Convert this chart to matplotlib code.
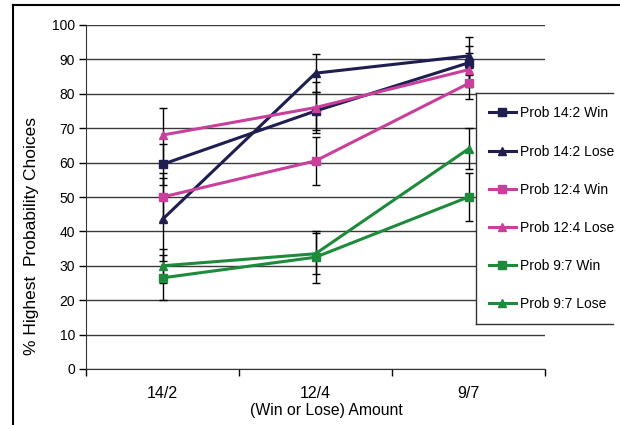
import matplotlib
matplotlib.use("Agg")
import matplotlib.pyplot as plt
from matplotlib.lines import Line2D
from matplotlib.patches import Rectangle

plt.rcParams["font.family"] = ["Liberation Sans", "DejaVu Sans"]

amounts = ["14/2", "12/4", "9/7"]

series_names = [
    "Prob 14:2 Win",
    "Prob 14:2 Lose",
    "Prob 12:4 Win",
    "Prob 12:4 Lose",
    "Prob 9:7 Win",
    "Prob 9:7 Lose",
]

win_14_2 = [59.5, 75, 89]
lose_14_2 = [43.5, 86, 91]
win_12_4 = [50, 60.5, 83]
lose_12_4 = [68, 76, 87]
win_9_7 = [26.5, 32.5, 50]
lose_9_7 = [30, 33.5, 64]

err_win_14_2 = [6, 5.5, 5]
err_lose_14_2 = [12, 5.5, 5.5]
err_win_12_4 = [7, 7, 4.5]
err_lose_12_4 = [8, 7.5, 5]
err_win_9_7 = [6.5, 7.5, 7]
err_lose_9_7 = [5, 6, 6]

values = [win_14_2, lose_14_2, win_12_4, lose_12_4, win_9_7, lose_9_7]
errors = [err_win_14_2, err_lose_14_2, err_win_12_4, err_lose_12_4, err_win_9_7, err_lose_9_7]

navy = "#1e1e50"
pink = "#c8409c"
green = "#1e8a3c"
colors = [navy, navy, pink, pink, green, green]
markers = ["s", "^", "s", "^", "s", "^"]

fig = plt.figure(figsize=(6.2, 4.25), dpi=100)
ax = fig.add_axes([86 / 620, 1 - 369 / 425, 459 / 620, 344 / 425])

x = list(range(len(amounts)))
handles = []
for vals, errs, c, m, name in zip(values, errors, colors, markers, series_names):
    ax.errorbar(x, vals, yerr=errs, fmt="none", ecolor="black", elinewidth=1,
                capsize=3, capthick=1, zorder=2)
    (h,) = ax.plot(x, vals, color=c, marker=m, markersize=6, linewidth=2.2,
                   label=name, zorder=3)
    handles.append(h)

ax.set_xlim(-0.5, 2.5)
ax.set_ylim(0, 100)
ax.set_yticks(range(0, 101, 10))
ax.set_xticks(x)
ax.set_xticklabels(amounts, fontsize=11.5)
ax.set_xticks([-0.5, 0.5, 1.5, 2.5], minor=True)
ax.tick_params(axis="x", which="major", length=0, pad=12)
ax.tick_params(axis="x", which="minor", length=5, width=1, direction="out")
ax.tick_params(axis="y", labelsize=10, length=5, width=1, direction="out", pad=3)

ax.grid(axis="y", color="#3a3a3a", linewidth=1)
ax.set_axisbelow(True)
for side in ["top", "right"]:
    ax.spines[side].set_visible(False)
ax.spines["left"].set_color("#333333")
ax.spines["bottom"].set_color("#333333")

fig.text(32 / 620, 1 - 236 / 425, "% Highest  Probability Choices",
         rotation=90, ha="center", va="center", fontsize=12.5)
fig.text(326 / 620, 1 - 410 / 425, "(Win or Lose) Amount",
         ha="center", va="center", fontsize=11.3)

# legend panel: white box with left, top and bottom rules
lx0, lx1 = 476 / 620, 613 / 620
ly0, ly1 = 1 - 324 / 425, 1 - 93 / 425
fig.add_artist(Rectangle((lx0, ly0), 1 - lx0, ly1 - ly0, transform=fig.transFigure,
                         facecolor="white", edgecolor="none", zorder=4))
for xs, ys in [([lx0, lx0], [ly0, ly1]), ([lx0, lx1], [ly1, ly1]), ([lx0, lx1], [ly0, ly0])]:
    fig.add_artist(Line2D(xs, ys, transform=fig.transFigure, color="#333333",
                          linewidth=1, zorder=5))
leg = fig.legend(handles=handles, loc="upper left", bbox_to_anchor=(lx0, ly1 - 0.002),
                 frameon=False, fontsize=10, handlelength=2.0, handletextpad=0.3,
                 labelspacing=1.74, borderaxespad=0.3, borderpad=0.6)
leg.set_zorder(6)

# outer frame
fig.add_artist(Line2D([13 / 620, 13 / 620], [0, 1 - 5 / 425], transform=fig.transFigure,
                      color="black", linewidth=1.5))
fig.add_artist(Line2D([13 / 620, 1], [1 - 5 / 425, 1 - 5 / 425], transform=fig.transFigure,
                      color="black", linewidth=1.5))

fig.savefig("out.png", dpi=100)
